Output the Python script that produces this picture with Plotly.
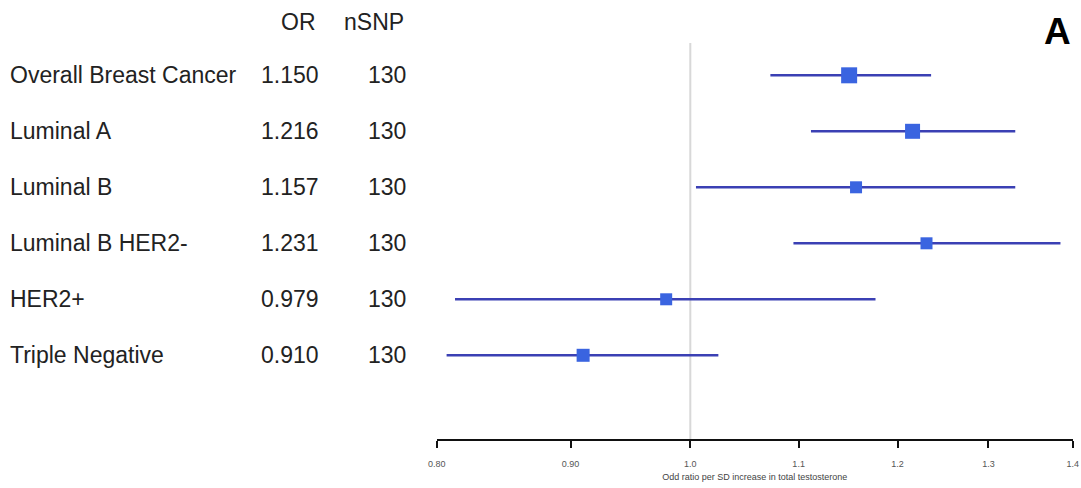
import plotly.graph_objects as go

# ---- data ----
subtypes = ["Overall Breast Cancer", "Luminal A", "Luminal B", "Luminal B HER2-", "HER2+", "Triple Negative"]
odds_ratio = [1.150, 1.216, 1.157, 1.231, 0.979, 0.910]
ci_lower = [1.073, 1.112, 1.005, 1.095, 0.813, 0.807]
ci_upper = [1.236, 1.331, 1.331, 1.385, 1.177, 1.025]
n_snp = [130, 130, 130, 130, 130, 130]
or_labels = ["1.150", "1.216", "1.157", "1.231", "0.979", "0.910"]
marker_sizes = [16, 15, 12, 12, 12, 13]
tick_vals = [0.80, 0.90, 1.0, 1.1, 1.2, 1.3, 1.4]
tick_text = ["0.80", "0.90", "1.0", "1.1", "1.2", "1.3", "1.4"]

W, H = 1081, 488
FONT = "Liberation Sans, Arial, sans-serif"
TXT = 23
rows = list(range(len(subtypes)))

fig = go.Figure()
fig.add_trace(go.Scatter(
    x=odds_ratio, y=rows, mode="markers",
    marker=dict(symbol="square", size=marker_sizes, color="#3a64e0",
                opacity=1, line=dict(width=0)),
    error_x=dict(type="data", symmetric=False,
                 array=[u - o for u, o in zip(ci_upper, odds_ratio)],
                 arrayminus=[o - l for o, l in zip(odds_ratio, ci_lower)],
                 color="#3b40b4", thickness=2.6, width=0),
    showlegend=False, hoverinfo="skip", cliponaxis=False,
))

# reference line at OR = 1
fig.add_shape(type="line", xref="x", yref="paper", x0=1.0, x1=1.0, y0=0, y1=1,
              line=dict(color="#d8d8d8", width=2), layer="below")

ann = []
# headers
ann.append(dict(text="OR", x=318 / W, y=1.053, xref="paper", yref="paper",
                xanchor="right", yanchor="middle", showarrow=False,
                font=dict(size=TXT, color="#222222", family=FONT)))
ann.append(dict(text="nSNP", x=406 / W, y=1.053, xref="paper", yref="paper",
                xanchor="right", yanchor="middle", showarrow=False,
                font=dict(size=TXT, color="#222222", family=FONT)))
for i, (s, o, n) in enumerate(zip(subtypes, or_labels, n_snp)):
    ann.append(dict(text=s, x=8 / W, y=i, xref="paper", yref="y",
                    xanchor="left", yanchor="middle", showarrow=False,
                    font=dict(size=TXT, color="#222222", family=FONT)))
    ann.append(dict(text=o, x=321 / W, y=i, xref="paper", yref="y",
                    xanchor="right", yanchor="middle", showarrow=False,
                    font=dict(size=TXT, color="#222222", family=FONT)))
    ann.append(dict(text=str(n), x=408 / W, y=i, xref="paper", yref="y",
                    xanchor="right", yanchor="middle", showarrow=False,
                    font=dict(size=TXT, color="#222222", family=FONT)))
ann.append(dict(text="<b>A</b>", x=1057 / W, y=1.029, xref="paper", yref="paper",
                xanchor="center", yanchor="middle", showarrow=False,
                font=dict(size=37, color="#000000", family=FONT)))

fig.update_layout(
    width=W, height=H,
    margin=dict(l=0, r=0, t=43, b=49, autoexpand=False),
    plot_bgcolor="white", paper_bgcolor="white",
    annotations=ann,
    xaxis=dict(type="log", range=[-0.09691, 0.146128], automargin=False,
               domain=[436.7 / W, 1072.7 / W],
               tickvals=tick_vals, ticktext=tick_text,
               tickfont=dict(size=9, color="#555555", family=FONT),
               ticks="outside", ticklen=7, tickwidth=1.5, tickcolor="#111111",
               showline=True, linecolor="#111111", linewidth=1.5,
               showgrid=False, zeroline=False, ticklabelstandoff=8,
               title=dict(text="Odd ratio per SD increase in total testosterone",
                          font=dict(size=9, color="#444444", family=FONT), standoff=6)),
    yaxis=dict(range=[6.495, -0.577], visible=False, showgrid=False, zeroline=False,
               automargin=False),
)

fig.write_html("out.html", config={"displayModeBar": False},
               post_script="document.body.style.margin='0';document.body.style.overflow='hidden';")
